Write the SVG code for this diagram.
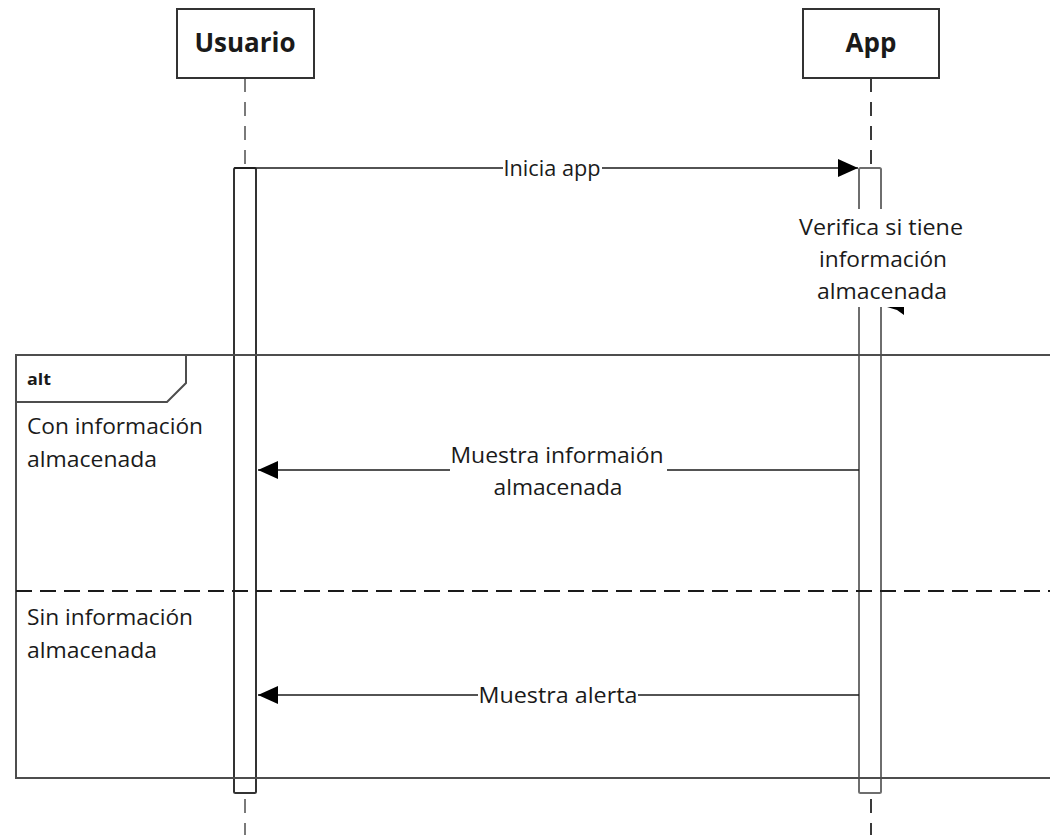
<svg xmlns="http://www.w3.org/2000/svg" width="1050" height="835" viewBox="0 0 1050 835">
  <style>
    .actor { fill: #ffffff; stroke: #333333; stroke-width: 2; }
    .actor-label { font-family: "Open Sans", "Liberation Sans", sans-serif; font-size: 26px; font-weight: bold; fill: #1a1a1a; text-anchor: middle; }
    .lifeline { fill: none; stroke-width: 2; stroke-dasharray: 14 10; }
    .bar { fill: #ffffff; stroke-width: 2; }
    .msg { fill: none; stroke: #1a1a1a; stroke-width: 1.6; }
    .label { font-family: "Open Sans", "Liberation Sans", sans-serif; font-size: 21px; fill: #1a1a1a; }
    .mid { text-anchor: middle; }
    .frame { fill: none; stroke: #4d4d4d; stroke-width: 2; }
    .sep { fill: none; stroke: #1a1a1a; stroke-width: 2; stroke-dasharray: 16 8; }
    .tag { font-family: "Open Sans", "Liberation Sans", sans-serif; font-size: 16px; font-weight: bold; fill: #1a1a1a; }
  </style>
  <defs>
    <marker id="arrow" markerWidth="20" markerHeight="18" refX="20" refY="9" orient="auto" markerUnits="userSpaceOnUse">
      <path d="M0,0 L20,9 L0,18 Z" fill="#000000"/>
    </marker>
  </defs>

  <rect width="1050" height="835" fill="#ffffff"/>

  <!-- lifelines -->
  <g id="lifelines">
    <line class="lifeline" x1="245" y1="78" x2="245" y2="168" stroke="#7a7a7a"/>
    <line class="lifeline" x1="245" y1="799" x2="245" y2="835" stroke="#7a7a7a"/>
    <line class="lifeline" x1="871" y1="78" x2="871" y2="168" stroke="#3a3a3a"/>
    <line class="lifeline" x1="871" y1="799" x2="871" y2="835" stroke="#3a3a3a"/>
  </g>

  <!-- activation bars -->
  <g id="activations">
    <rect class="bar" x="234" y="168" width="22" height="625" rx="1.5" stroke="#333333"/>
    <rect class="bar" x="859" y="168" width="22" height="625" rx="1.5" stroke="#6e6e6e"/>
  </g>

  <!-- participants -->
  <g id="usuario">
    <rect class="actor" x="177" y="9" width="137" height="69"/>
    <text class="actor-label" x="245" y="52">Usuario</text>
  </g>
  <g id="app">
    <rect class="actor" x="803" y="9" width="136" height="69"/>
    <text class="actor-label" x="871" y="52">App</text>
  </g>

  <!-- alt combined fragment -->
  <g id="alt-frame">
    <path class="frame" d="M1050,355 L16,355 L16,778 L1050,778"/>
    <path class="frame" d="M16,402 L167,402 L186,383 L186,355"/>
    <text class="tag" x="27" y="385" textLength="24" lengthAdjust="spacingAndGlyphs">alt</text>
    <line class="sep" x1="16" y1="591" x2="1050" y2="591"/>
    <text class="label" x="27" y="434" textLength="176" lengthAdjust="spacingAndGlyphs">Con información</text>
    <text class="label" x="27" y="467" textLength="130" lengthAdjust="spacingAndGlyphs">almacenada</text>
    <text class="label" x="27" y="625" textLength="166" lengthAdjust="spacingAndGlyphs">Sin información</text>
    <text class="label" x="27" y="658" textLength="130" lengthAdjust="spacingAndGlyphs">almacenada</text>
  </g>

  <!-- messages -->
  <g id="connectors">
    <line class="msg" x1="234" y1="168" x2="858" y2="168" marker-end="url(#arrow)"/>
    <rect x="503" y="156" width="99" height="26" fill="#ffffff"/>
    <text class="label mid" x="552" y="176" textLength="97" lengthAdjust="spacingAndGlyphs">Inicia app</text>

    <!-- self call on App: label box hides the loop, only the head shows -->
    <rect x="797" y="209" width="168" height="98" fill="#ffffff"/>
    <path d="M887,307 L904,307 L904,315 L897,310 Z" fill="#000000"/>
    <text class="label mid" x="881" y="235" textLength="164" lengthAdjust="spacingAndGlyphs">Verifica si tiene</text>
    <text class="label mid" x="883" y="267" textLength="128" lengthAdjust="spacingAndGlyphs">información</text>
    <text class="label mid" x="882" y="299" textLength="130" lengthAdjust="spacingAndGlyphs">almacenada</text>

    <line class="msg" x1="859" y1="470" x2="258" y2="470" marker-end="url(#arrow)"/>
    <rect x="450" y="440" width="217" height="60" fill="#ffffff"/>
    <text class="label mid" x="557" y="463" textLength="213" lengthAdjust="spacingAndGlyphs">Muestra informaión</text>
    <text class="label mid" x="558" y="495" textLength="129" lengthAdjust="spacingAndGlyphs">almacenada</text>

    <line class="msg" x1="859" y1="695" x2="258" y2="695" marker-end="url(#arrow)"/>
    <rect x="478" y="683" width="160" height="26" fill="#ffffff"/>
    <text class="label mid" x="558" y="703" textLength="159" lengthAdjust="spacingAndGlyphs">Muestra alerta</text>
  </g>
</svg>
